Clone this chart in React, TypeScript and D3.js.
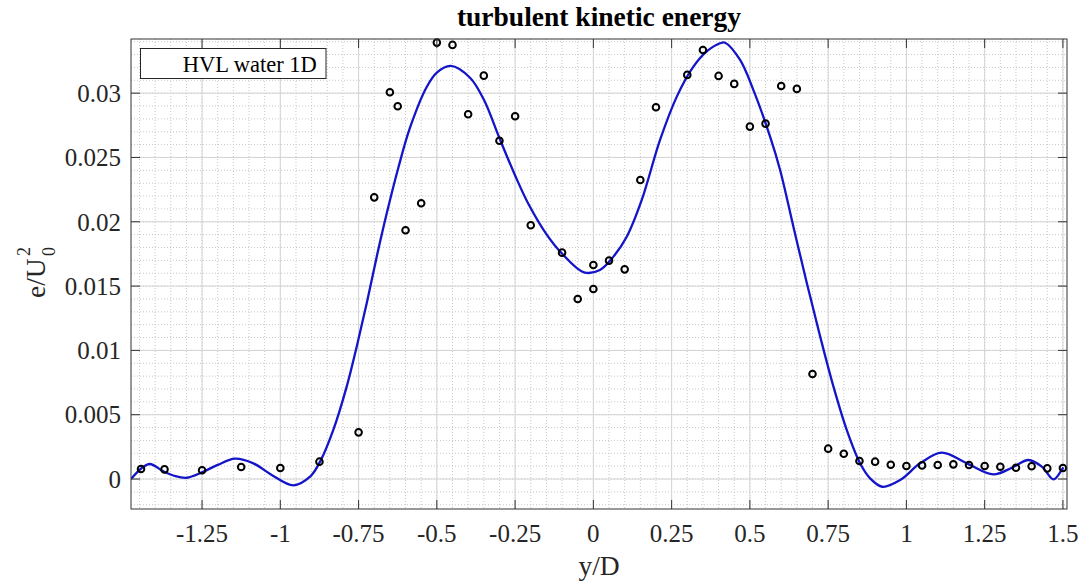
import React from "react";
import * as d3 from "d3";

const title = "turbulent kinetic energy";
const xLabel = "y/D";
const legendLabel = "HVL water 1D";

const xTicks = [-1.25, -1, -0.75, -0.5, -0.25, 0, 0.25, 0.5, 0.75, 1, 1.25, 1.5];
const xTickLabels = ["-1.25", "-1", "-0.75", "-0.5", "-0.25", "0", "0.25", "0.5", "0.75", "1", "1.25", "1.5"];
const yTicks = [0, 0.005, 0.01, 0.015, 0.02, 0.025, 0.03];
const yTickLabels = ["0", "0.005", "0.01", "0.015", "0.02", "0.025", "0.03"];

// measured points (circles)
const pointX = [
  -1.445, -1.37, -1.25, -1.125, -1, -0.875, -0.75, -0.7, -0.65, -0.625, -0.6, -0.55, -0.5, -0.45, -0.4,
  -0.35, -0.3, -0.25, -0.2, -0.1, -0.05, 0, 0, 0.05, 0.1, 0.15, 0.2, 0.3, 0.35, 0.4, 0.45, 0.5, 0.55,
  0.6, 0.65, 0.7, 0.75, 0.8, 0.85, 0.9, 0.95, 1.0, 1.05, 1.1, 1.15, 1.2, 1.25, 1.3, 1.35, 1.4, 1.45, 1.5,
];
const pointY = [
  0.00078, 0.00075, 0.00068, 0.00093, 0.00086, 0.00135, 0.00363, 0.0219, 0.03007, 0.02898, 0.01934,
  0.02144, 0.03393, 0.03375, 0.02836, 0.03136, 0.0263, 0.0282, 0.01973, 0.0176, 0.014, 0.01477, 0.01664,
  0.01698, 0.0163, 0.02325, 0.0289, 0.03142, 0.03336, 0.03134, 0.03072, 0.0274, 0.02763, 0.03056,
  0.03033, 0.00816, 0.00236, 0.00197, 0.0014, 0.00135, 0.00111, 0.00101, 0.00106, 0.00109, 0.00114,
  0.00109, 0.00101, 0.00096, 0.00088, 0.00099, 0.00083, 0.00086,
];

// fitted curve (blue)
const curveX = [
  -1.477, -1.445, -1.417, -1.375, -1.335, -1.299, -1.25, -1.2, -1.145, -1.086, -1.03, -0.958, -0.905,
  -0.873, -0.831, -0.788, -0.756, -0.724, -0.692, -0.66, -0.623, -0.586, -0.532, -0.5, -0.4556, -0.394,
  -0.35, -0.3, -0.25, -0.2077, -0.149, -0.101, -0.03, 0.021, 0.064, 0.1066, 0.1546, 0.213, 0.2665, 0.3195,
  0.365, 0.405, 0.4208, 0.4687, 0.511, 0.5645, 0.5965, 0.639, 0.682, 0.7243, 0.767, 0.8096, 0.852, 0.884,
  0.923, 0.98, 1.0438, 1.113, 1.193, 1.278, 1.337, 1.39, 1.4326, 1.47, 1.496, 1.5016,
];
const curveY = [
  0.0, 0.0008, 0.00117, 0.00062, 0.00022, 0.0001, 0.00052, 0.0011, 0.00158, 0.00122, 0.00036, -0.00049,
  0.00018, 0.00135, 0.0038, 0.00718, 0.01029, 0.01366, 0.01729, 0.02066, 0.0242, 0.0273, 0.0305, 0.0316,
  0.03212, 0.0312, 0.0295, 0.0265, 0.0236, 0.0214, 0.019, 0.01755, 0.01607, 0.01625, 0.01729, 0.01884,
  0.0217, 0.02636, 0.02973, 0.03206, 0.0333, 0.03388, 0.03392, 0.03258, 0.03025, 0.02662, 0.02403,
  0.01962, 0.01522, 0.0111, 0.00718, 0.0038, 0.00122, 0.00005, -0.0006, -0.00008, 0.00122, 0.00205,
  0.00122, 0.00036, 0.00088, 0.00148, 0.00096, -0.00003, 0.0007, 0.0009,
];

const W = 1080;
const H = 582;
const L = 131, R = 1067, T = 39, B = 509;
const FONT = "'Liberation Serif', 'Times New Roman', serif";

export default function App() {
  const x = d3.scaleLinear().domain([-1.477, 1.513]).range([L, R]);
  const y = d3.scaleLinear().domain([-0.00233, 0.03421]).range([B, T]);

  const xMinor = d3.range(-29, 31).map((i) => i * 0.05).filter((v) => x(v) > L + 0.5 && x(v) < R - 0.5);
  const yMinor = d3.range(-2, 35).map((i) => i * 0.001).filter((v) => y(v) < B - 0.5 && y(v) > T + 0.5);

  const line = d3
    .line<number>()
    .x((_, i) => x(curveX[i]))
    .y((_, i) => y(curveY[i]))
    .curve(d3.curveCatmullRom.alpha(0.5));
  const path = line(curveX) || "";

  const tickLen = 9;
  const axisColor = "#333333";

  return (
    <svg
      width={W}
      height={H}
      style={{ position: "absolute", left: 0, top: 0, background: "#fff" }}
      fontFamily={FONT}
    >
      <rect x={0} y={0} width={W} height={H} fill="#fff" />
      <defs>
        <clipPath id="plotclip">
          <rect x={L} y={T} width={R - L} height={B - T} />
        </clipPath>
      </defs>
      {/* minor grid */}
      <g stroke="#c8c8c8" strokeWidth={1} strokeDasharray="1,2">
        {xMinor.map((v, i) => (
          <line key={"xm" + i} x1={x(v)} x2={x(v)} y1={T} y2={B} />
        ))}
        {yMinor.map((v, i) => (
          <line key={"ym" + i} x1={L} x2={R} y1={y(v)} y2={y(v)} />
        ))}
      </g>
      {/* major grid */}
      <g stroke="#d4d4d4" strokeWidth={1}>
        {xTicks.map((v, i) => (
          <line key={"xg" + i} x1={x(v)} x2={x(v)} y1={T} y2={B} />
        ))}
        {yTicks.map((v, i) => (
          <line key={"yg" + i} x1={L} x2={R} y1={y(v)} y2={y(v)} />
        ))}
      </g>
      {/* curve */}
      <path d={path} fill="none" stroke="#1414c8" strokeWidth={2.3} clipPath="url(#plotclip)" />
      {/* points */}
      <g fill="none" stroke="#000" strokeWidth={2}>
        {pointX.map((v, i) => (
          <circle key={"p" + i} cx={x(v)} cy={y(pointY[i])} r={3.3} />
        ))}
      </g>
      {/* axes box and ticks */}
      <rect x={L} y={T} width={R - L} height={B - T} fill="none" stroke={axisColor} strokeWidth={1} />
      <g stroke={axisColor} strokeWidth={1}>
        {xTicks.map((v, i) => (
          <g key={"xt" + i}>
            <line x1={x(v)} x2={x(v)} y1={B} y2={B - tickLen} />
            <line x1={x(v)} x2={x(v)} y1={T} y2={T + tickLen} />
          </g>
        ))}
        {yTicks.map((v, i) => (
          <g key={"yt" + i}>
            <line x1={L} x2={L + tickLen} y1={y(v)} y2={y(v)} />
            <line x1={R} x2={R - tickLen} y1={y(v)} y2={y(v)} />
          </g>
        ))}
      </g>
      {/* tick labels */}
      <g fontSize={25} fill="#262626">
        {xTicks.map((v, i) => (
          <text key={"xl" + i} x={x(v)} y={541.5} textAnchor="middle">
            {xTickLabels[i]}
          </text>
        ))}
        {yTicks.map((v, i) => (
          <text key={"yl" + i} x={121} y={y(v)} dy="0.35em" textAnchor="end">
            {yTickLabels[i]}
          </text>
        ))}
      </g>
      {/* title */}
      <text x={(L + R) / 2} y={26} textAnchor="middle" fontSize={27.5} fontWeight="bold" fill="#000">
        {title}
      </text>
      {/* x label */}
      <text x={(L + R) / 2} y={575} textAnchor="middle" fontSize={27.5} fill="#262626">
        {xLabel}
      </text>
      {/* y label */}
      <g transform="translate(45,272) rotate(-90)" fill="#262626">
        <text x={-26} y={0} fontSize={27.5}>
          e/U
        </text>
        <text x={16} y={10} fontSize={18}>
          0
        </text>
        <text x={16} y={-15} fontSize={18}>
          2
        </text>
      </g>
      {/* legend */}
      <rect x={140.5} y={48.5} width={185.5} height={30} fill="#fff" stroke="#262626" strokeWidth={1} />
      <text x={182.7} y={71.5} fontSize={22.5} fill="#000">
        {legendLabel}
      </text>
    </svg>
  );
}
